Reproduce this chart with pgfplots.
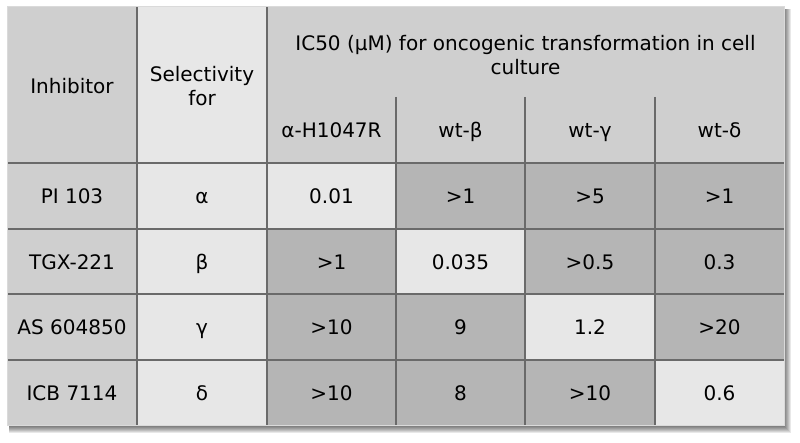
\documentclass[border=0pt]{standalone}
\usepackage{pgfplots}
\pgfplotsset{compat=1.18}
\usepackage{pgfplotstable}
\usepackage{fontspec}
\setmainfont{DejaVu Sans}
\definecolor{hdr}{HTML}{CFCFCF}
\definecolor{lite}{HTML}{E7E7E7}
\definecolor{dark}{HTML}{B5B5B5}
\definecolor{gridc}{HTML}{6A6A6A}
\definecolor{edgec}{HTML}{DADADA}
\newcommand{\tabfont}{\fontsize{10}{14}\selectfont}

% body cell labels: x centre, y centre, text
\pgfplotstableread[col sep=comma]{
x,y,label
72,196.5,PI 103
202,196.5,α
331.5,196.5,0.01
460.5,196.5,>1
590,196.5,>5
719.5,196.5,>1
72,262,TGX-221
202,262,β
331.5,262,>1
460.5,262,0.035
590,262,>0.5
719.5,262,0.3
72,327.5,AS 604850
202,327.5,γ
331.5,327.5,>10
460.5,327.5,9
590,327.5,1.2
719.5,327.5,>20
72,393.5,ICB 7114
202,393.5,δ
331.5,393.5,>10
460.5,393.5,8
590,393.5,>10
719.5,393.5,0.6
}\bodytab

\newcommand{\cell}[5]{\addplot[fill=#5, draw=none, forget plot] coordinates {(#1,#2) (#3,#2) (#3,#4) (#1,#4)} -- cycle;}
\newcommand{\shad}[1]{\addplot[fill=black, fill opacity=0.09, draw=none, forget plot] coordinates {(9,9) (784+#1,9) (784+#1,426+#1) (9,426+#1)} -- cycle;}

\begin{document}
\begin{tikzpicture}
\begin{axis}[
  scale only axis, width=400pt, height=221.5pt,
  xmin=0, xmax=800, ymin=0, ymax=443, y dir=reverse,
  hide axis, clip=false,
  every node/.append style={font=\tabfont, text=black},
]
% background
\cell{0}{0}{800}{443}{white}
% shadow
\shad{1}\shad{2}\shad{3}\shad{4}\shad{5}\shad{6}\shad{7}
% header
\cell{7}{7}{137}{163}{hdr}
\cell{137}{7}{267}{163}{lite}
\cell{267}{7}{784}{163}{hdr}
% first two columns of body
\cell{7}{163}{137}{426}{hdr}
\cell{137}{163}{267}{426}{lite}
% data cells
\cell{267}{163}{396}{229}{lite}
\cell{396}{163}{525}{229}{dark}
\cell{525}{163}{655}{229}{dark}
\cell{655}{163}{784}{229}{dark}
\cell{267}{229}{396}{294}{dark}
\cell{396}{229}{525}{294}{lite}
\cell{525}{229}{655}{294}{dark}
\cell{655}{229}{784}{294}{dark}
\cell{267}{294}{396}{360}{dark}
\cell{396}{294}{525}{360}{dark}
\cell{525}{294}{655}{360}{lite}
\cell{655}{294}{784}{360}{dark}
\cell{267}{360}{396}{426}{dark}
\cell{396}{360}{525}{426}{dark}
\cell{525}{360}{655}{426}{dark}
\cell{655}{360}{784}{426}{lite}
% grid lines
\addplot[gridc, line width=1pt, forget plot] coordinates {(137,7) (137,426)};
\addplot[gridc, line width=1pt, forget plot] coordinates {(267,7) (267,426)};
\addplot[gridc, line width=1pt, forget plot] coordinates {(396,97) (396,426)};
\addplot[gridc, line width=1pt, forget plot] coordinates {(525,97) (525,426)};
\addplot[gridc, line width=1pt, forget plot] coordinates {(655,97) (655,426)};
\addplot[gridc, line width=1pt, forget plot] coordinates {(7,163) (784,163)};
\addplot[gridc, line width=1pt, forget plot] coordinates {(7,229) (784,229)};
\addplot[gridc, line width=1pt, forget plot] coordinates {(7,294) (784,294)};
\addplot[gridc, line width=1pt, forget plot] coordinates {(7,360) (784,360)};
% outer edge
\addplot[edgec, line width=0.5pt, forget plot] coordinates {(7,7) (784,7) (784,426) (7,426)} -- cycle;
% header text
\node[text height=7.3pt, text depth=0pt, inner sep=0pt] at (axis cs:72,86.5) {Inhibitor};
\node[align=center] at (axis cs:202,86) {Selectivity\\for};
\node[align=center] at (axis cs:525.5,55) {IC50 (µM) for oncogenic transformation in cell\\culture};
\node[text height=7.3pt, text depth=0pt, inner sep=0pt] at (axis cs:331.5,130) {α-H1047R};
\node[text height=7.3pt, text depth=0pt, inner sep=0pt] at (axis cs:460.5,130) {wt-β};
\node[text height=7.3pt, text depth=0pt, inner sep=0pt] at (axis cs:590,130) {wt-γ};
\node[text height=7.3pt, text depth=0pt, inner sep=0pt] at (axis cs:719.5,130) {wt-δ};
% body text
\addplot[draw=none, mark=none, forget plot, nodes near coords, point meta=explicit symbolic,
  every node near coord/.append style={anchor=center, inner sep=0pt, text height=7.3pt, text depth=0pt, font=\tabfont}]
  table[x=x, y=y, meta=label] {\bodytab};
\end{axis}
\end{tikzpicture}
\end{document}
